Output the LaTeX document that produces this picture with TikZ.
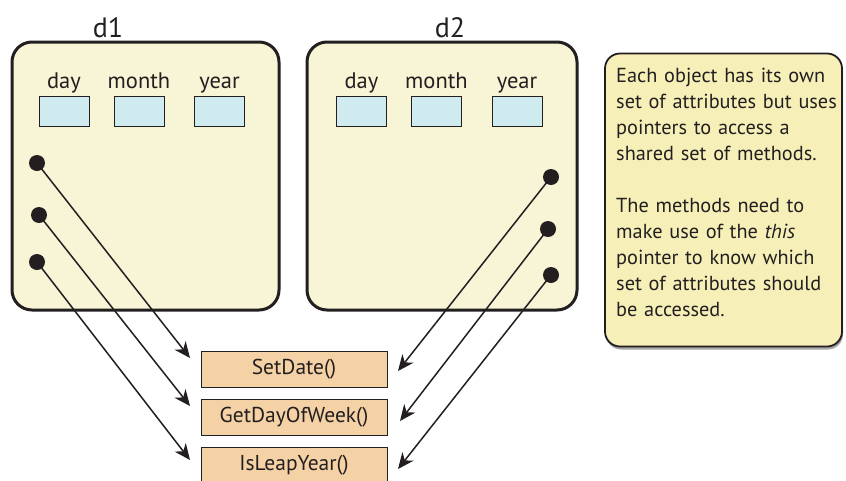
\documentclass[tikz,border=0pt]{standalone}
\usepackage{fontspec}
\setmainfont{PT Sans}
\usetikzlibrary{arrows.meta,shadows}
\definecolor{cream}{HTML}{F8F4D6}
\definecolor{attrblue}{HTML}{CFEBF0}
\definecolor{peach}{HTML}{F5D1A6}
\definecolor{noteyellow}{HTML}{F6F0B8}
\definecolor{ink}{HTML}{231F20}
\tikzset{
  objbox/.style={draw=ink, line width=3pt, rounded corners=20pt, fill=cream, inner sep=0pt},
  attrbox/.style={draw=ink, line width=0.9pt, fill=attrblue, minimum width=50pt, minimum height=30pt, inner sep=0pt},
  attrlabel/.style={font=\fontsize{22.5}{24}\selectfont, text=ink, inner sep=0pt},
  objlabel/.style={font=\fontsize{28}{30}\selectfont, text=ink, inner sep=0pt},
  ptrdot/.style={circle, fill=ink, minimum size=16pt, inner sep=0pt},
  methbox/.style={draw=ink, line width=0.9pt, fill=peach, minimum width=186pt, minimum height=36pt, inner sep=0pt, font=\fontsize{21.5}{24}\selectfont, text=ink},
  conn/.style={draw=ink, line width=1.5pt, -{Stealth[length=16pt, width=14pt, inset=5pt]}},
  notebox/.style={draw=ink, line width=1.8pt, rounded corners=15pt, fill=noteyellow, inner sep=0pt,
    drop shadow={shadow xshift=1pt, shadow yshift=-3pt, opacity=0.35, fill=black}}
}
\begin{document}
\begin{tikzpicture}[x=1pt,y=-1pt]
\useasboundingbox (0,0) rectangle (846,480);
\clip (0,0) rectangle (846,480);
% objects
\node[objbox, minimum width=267pt, minimum height=268pt] (d1) at (145.5,176) {};
\node[objbox, minimum width=270pt, minimum height=268pt] (d2) at (442,176) {};
\node[objlabel, anchor=base] (d1l) at (108,37) {d1};
\node[objlabel, anchor=base] (d2l) at (450,37) {d2};
% attributes d1
\node[attrbox] (a1d) at (64,111) {};
\node[attrbox] (a1m) at (139,111) {};
\node[attrbox] (a1y) at (219.5,111) {};
\node[attrlabel, anchor=base] (l1d) at (64,88) {day};
\node[attrlabel, anchor=base] (l1m) at (139,88) {month};
\node[attrlabel, anchor=base] (l1y) at (219.5,88) {year};
% attributes d2
\node[attrbox] (a2d) at (361.5,111) {};
\node[attrbox] (a2m) at (436.5,111) {};
\node[attrbox] (a2y) at (517,111) {};
\node[attrlabel, anchor=base] (l2d) at (361.5,88) {day};
\node[attrlabel, anchor=base] (l2m) at (436.5,88) {month};
\node[attrlabel, anchor=base] (l2y) at (517,88) {year};
% pointer dots
\node[ptrdot] (p11) at (37,163) {};
\node[ptrdot] (p12) at (39,215) {};
\node[ptrdot] (p13) at (37,262) {};
\node[ptrdot] (p21) at (551,177) {};
\node[ptrdot] (p22) at (548,229) {};
\node[ptrdot] (p23) at (551,275) {};
% methods
\node[methbox] (m1) at (294,369) {SetDate()};
\node[methbox] (m2) at (294,417.5) {GetDayOfWeek()};
\node[methbox] (m3) at (294,465) {IsLeapYear()};
% arrow end points
\coordinate (t11) at (190,358);
\coordinate (t12) at (190,406);
\coordinate (t13) at (190,460);
\coordinate (t21) at (398,371);
\coordinate (t22) at (400,421);
\coordinate (t23) at (398,469);
\draw[conn] (p11.center) -- (t11);
\draw[conn] (p12.center) -- (t12);
\draw[conn] (p13.center) -- (t13);
\draw[conn] (p21.center) -- (t21);
\draw[conn] (p22.center) -- (t22);
\draw[conn] (p23.center) -- (t23);
% note
\node[notebox, minimum width=237pt, minimum height=293pt] (note) at (723.5,200) {};
\node[anchor=north west, inner sep=0pt, text width=228pt, align=left, font=\fontsize{20.3}{26}\selectfont, text=ink] (notetext) at (616,68)
{Each object has its own\\ set of attributes but uses\\ pointers to access a\\ shared set of methods.\\[26pt]
The methods need to\\ make use of the \textit{this}\\ pointer to know which\\ set of attributes should\\ be accessed.};
\end{tikzpicture}
\end{document}
